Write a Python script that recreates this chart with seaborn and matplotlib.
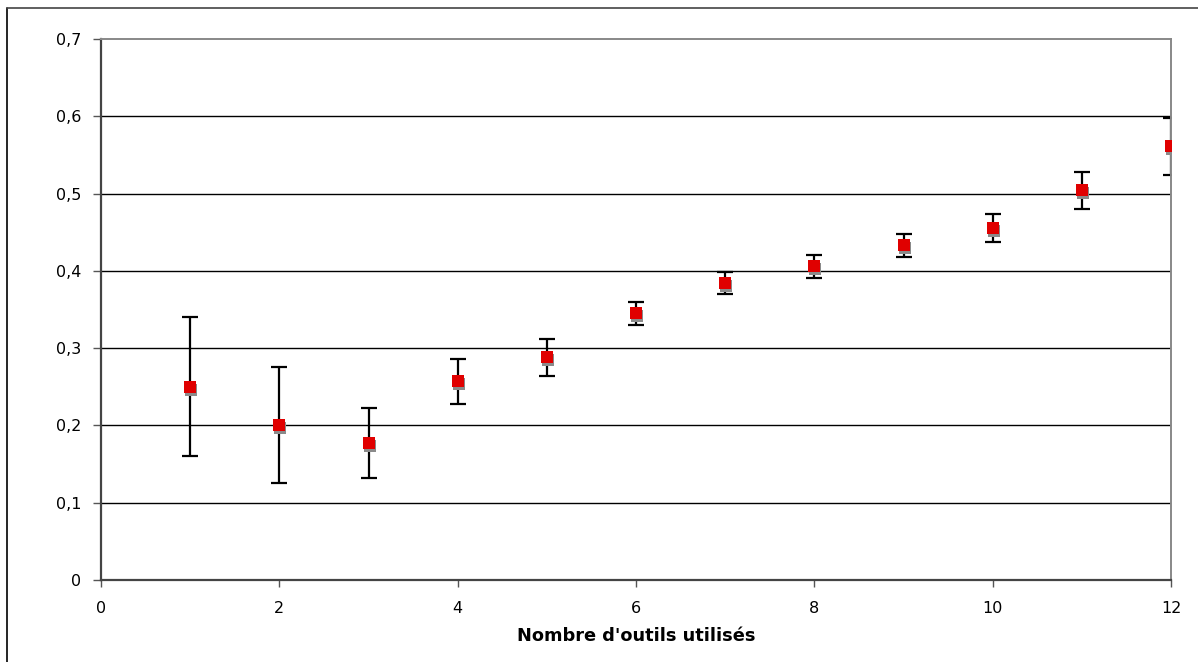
import numpy as np
import pandas as pd
import seaborn as sns
import matplotlib.pyplot as plt
import matplotlib.transforms as mtransforms
from matplotlib.lines import Line2D


# valeurs
nb_outils = [1, 2, 3, 4, 5, 6, 7, 8, 9, 10, 11, 12]
moyenne = [0.250, 0.200, 0.177, 0.257, 0.288, 0.345, 0.384, 0.406, 0.433, 0.455, 0.504, 0.561]
erreur = [0.090, 0.075, 0.045, 0.029, 0.024, 0.015, 0.014, 0.015, 0.015, 0.018, 0.024, 0.037]

x_ticks = [0, 2, 4, 6, 8, 10, 12]
y_ticks = [0, 0.1, 0.2, 0.3, 0.4, 0.5, 0.6, 0.7]
y_labels = ['0', '0,1', '0,2', '0,3', '0,4', '0,5', '0,6', '0,7']


df = pd.DataFrame({'n': nb_outils, 'moy': moyenne, 'err': erreur})

sns.set_style("white")
plt.rcParams['font.family'] = 'sans-serif'
plt.rcParams['font.sans-serif'] = ['DejaVu Sans']
plt.rcParams['text.color'] = 'black'
plt.rcParams['axes.labelcolor'] = 'black'

fig = plt.figure(figsize=(11.98, 6.62), dpi=100)
ax = fig.add_axes([0.0843, 0.1239, 0.8932, 0.8172])

# lignes de quadrillage horizontales
for yv in y_ticks[1:-1]:
    ax.axhline(yv, color='black', lw=1.0, zorder=1)

ax.errorbar(df.n, df.moy, yerr=df.err, fmt='none', ecolor='black',
            elinewidth=1.6, capsize=6, capthick=1.6, zorder=2)

# ombre grise sous les marqueurs
shadow = mtransforms.offset_copy(ax.transData, fig=fig, x=1, y=-3, units='dots')
ax.plot(df.n, df.moy, 's', color='#8a8a8a', ms=8, mew=0, transform=shadow, zorder=3)

sns.scatterplot(data=df, x='n', y='moy', marker='s', color='#e00000',
                s=64, linewidth=0, ax=ax, zorder=4)

ax.set_xlim(0, 12)
ax.set_ylim(0, 0.7)
ax.set_xticks(x_ticks)
ax.set_xticklabels([str(t) for t in x_ticks], family='DejaVu Sans')
ax.set_yticks(y_ticks)
ax.set_yticklabels(y_labels, family='DejaVu Sans')

ax.tick_params(axis='x', direction='out', length=5, width=1, color='#555555',
               labelcolor='black', pad=10, labelsize=11.5, bottom=True)
ax.tick_params(axis='y', direction='out', length=6, width=1, color='#555555',
               labelcolor='black', pad=8, labelsize=11.5, left=True)

ax.set_xlabel("Nombre d'outils utilisés", fontweight='bold', fontsize=12.8,
              family='DejaVu Sans', color='black', labelpad=8)
ax.set_ylabel('')

for side in ['left', 'bottom']:
    ax.spines[side].set_color('#444444')
    ax.spines[side].set_linewidth(1.6)
for side in ['top', 'right']:
    ax.spines[side].set_color('#888888')
    ax.spines[side].set_linewidth(1.4)
    ax.spines[side].set_visible(True)

# cadre du graphique
fig.add_artist(Line2D([7 / 1198, 7 / 1198], [0, 1 - 8 / 662], transform=fig.transFigure,
                      color='black', lw=1.2))
fig.add_artist(Line2D([7 / 1198, 1], [1 - 8 / 662, 1 - 8 / 662], transform=fig.transFigure,
                      color='#444444', lw=1.2))

fig.savefig('out.png', dpi=100)
